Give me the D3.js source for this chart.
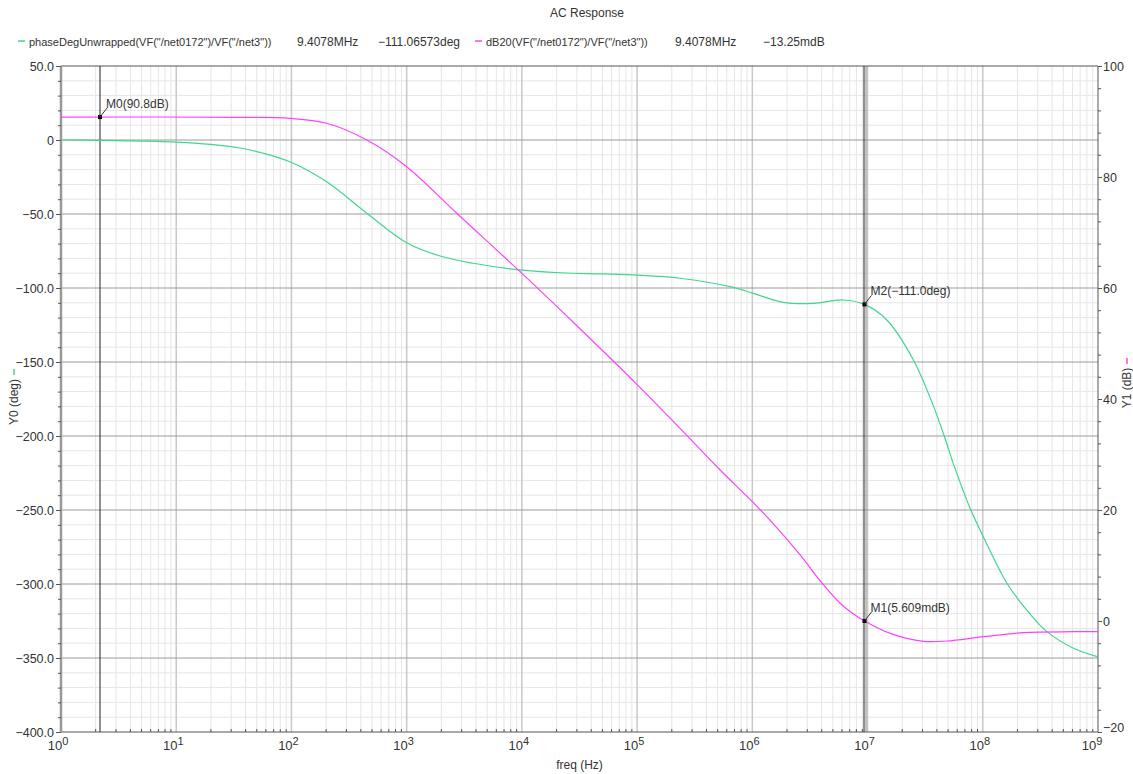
<!DOCTYPE html>
<html lang="en">
<head>
<meta charset="UTF-8" />
<title>AC Response</title>
<script src="https://d3js.org/d3.v7.min.js"></script>
<style>
  body { margin: 0; background: #fff; }
  svg text { font-family: "Liberation Sans", Arial, sans-serif; fill: #333; }
  .axis path { display: none; }
  .axis line { stroke: #555; }
</style>
</head>
<body>
<svg id="chart" width="1133" height="774"></svg>
<script>
// phase curve (left axis, deg)
const phaseFreq = [1, 2.18, 5, 10, 20, 35.8, 55, 97, 202, 451, 1000, 1950, 3790, 9640, 21500, 50000,
  100000, 236000, 641000, 1020000, 1850000, 3370000, 6140000, 9407800, 14700000, 25000000,
  37400000, 47200000, 55700000, 77800000, 101000000, 162000000, 241000000, 360000000, 613000000, 1000000000];
const phaseDeg = [0, -0.25, -0.7, -1.4, -3.0, -5.4, -8.6, -14.7, -28.2, -49.5, -69.4, -78.4, -83.3, -87.8, -89.7, -90.5,
  -91.3, -93.4, -99.1, -103.6, -109.7, -110.4, -108.1, -111.07, -121.6, -148.6,
  -180, -202, -219, -249, -268, -299.5, -317.6, -332.2, -343.4, -349.2];

// magnitude curve (right axis, dB)
const magFreq = [1, 35.8, 97, 202, 451, 1000, 2720, 9640, 30000, 100000, 236000, 525000, 1000000,
  1600000, 2600000, 4000000, 5780000, 7500000, 9407800, 15700000, 30500000, 48700000, 101000000, 225000000, 613000000, 1000000000];
const magDb = [90.8, 90.76, 90.58, 89.68, 86.67, 81.86, 73.46, 62.94, 53.2, 42.6, 34.7, 27.2, 21.5,
  17.0, 11.9, 6.9, 3.19, 1.3, 0.0056, -2.22, -3.66, -3.6, -2.83, -2.1, -1.93, -1.9];

const leftTicks = [50, 0, -50, -100, -150, -200, -250, -300, -350, -400];
const rightTicks = [100, 80, 60, 40, 20, 0, -20];
const decades = [0, 1, 2, 3, 4, 5, 6, 7, 8, 9];

// markers
const markerFreqM0 = 2.18;
const markerDbM0 = 90.8;
const markerFreqM1 = 9.4078e6;
const markerDbM1 = 0.005609;
const markerDegM2 = -111.06573;

const margin = { top: 66, left: 61, right: 35, bottom: 42 };
const W = 1133, H = 774;
const iw = W - margin.left - margin.right;
const ih = H - margin.top - margin.bottom;

const svg = d3.select("#chart");
const g = svg.append("g").attr("transform", "translate(" + margin.left + "," + margin.top + ")");

const x = d3.scaleLog().domain([1, 1e9]).range([0, iw]);
const yL = d3.scaleLinear().domain([-400, 50]).range([ih, 0]);
const yR = d3.scaleLinear().domain([-20, 100]).range([ih, 0]);

// grid: minor verticals
const minorX = [];
for (let d = 0; d < 9; d++) for (let k = 2; k <= 9; k++) minorX.push(k * Math.pow(10, d));
g.selectAll(".vminor").data(minorX).enter().append("line")
  .attr("x1", d => x(d)).attr("x2", d => x(d)).attr("y1", 0).attr("y2", ih)
  .attr("stroke", "#e6e6e6");

// minor horizontals every 10 deg
const minorY = d3.range(-390, 50, 10).filter(v => v % 50 !== 0);
g.selectAll(".hminor").data(minorY).enter().append("line")
  .attr("x1", 0).attr("x2", iw).attr("y1", d => yL(d)).attr("y2", d => yL(d))
  .attr("stroke", "#e6e6e6");

// decade verticals
g.selectAll(".vmajor").data(decades.slice(1, 9)).enter().append("line")
  .attr("x1", d => x(Math.pow(10, d))).attr("x2", d => x(Math.pow(10, d)))
  .attr("y1", 0).attr("y2", ih).attr("stroke", "#c8c8c8").attr("stroke-width", 1.5);

// major horizontals
g.selectAll(".hmajor").data(leftTicks.slice(1, 9)).enter().append("line")
  .attr("x1", 0).attr("x2", iw).attr("y1", d => yL(d)).attr("y2", d => yL(d))
  .attr("stroke", "#9a9a9a");

// frame
g.append("line").attr("x1", 0).attr("x2", iw).attr("y1", 0).attr("y2", 0).attr("stroke", "#555");
g.append("line").attr("x1", 0).attr("x2", iw).attr("y1", ih).attr("y2", ih).attr("stroke", "#555");
g.append("line").attr("x1", iw).attr("x2", iw).attr("y1", 0).attr("y2", ih).attr("stroke", "#555");
g.append("line").attr("x1", 0).attr("x2", 0).attr("y1", 0).attr("y2", ih).attr("stroke", "#999").attr("stroke-width", 2.5);

// marker vertical lines
g.append("line").attr("x1", x(markerFreqM0)).attr("x2", x(markerFreqM0)).attr("y1", 0).attr("y2", ih)
  .attr("stroke", "#222");
g.append("line").attr("x1", x(markerFreqM1) - 0.5).attr("x2", x(markerFreqM1) - 0.5).attr("y1", 0).attr("y2", ih)
  .attr("stroke", "#222");
g.append("line").attr("x1", x(markerFreqM1) + 1.5).attr("x2", x(markerFreqM1) + 1.5).attr("y1", 0).attr("y2", ih)
  .attr("stroke", "#888");

// left axis
const minus = s => s.replace("-", "\u2212");
g.append("g").attr("class", "axis")
  .call(d3.axisLeft(yL).tickValues(d3.range(-400, 51, 10)).tickSize(3).tickFormat(""));
g.append("g").attr("class", "axis")
  .call(d3.axisLeft(yL).tickValues(leftTicks).tickSize(5).tickPadding(2)
    .tickFormat(d => d === 0 ? "0" : minus(d3.format(".1f")(d))))
  .selectAll("text").style("font-size", "12.5px").attr("fill", "#333");

// right axis
g.append("g").attr("class", "axis").attr("transform", "translate(" + iw + ",0)")
  .call(d3.axisRight(yR).tickValues(d3.range(-20, 101, 4)).tickSize(3).tickFormat(""));
g.append("g").attr("class", "axis").attr("transform", "translate(" + iw + ",0)")
  .call(d3.axisRight(yR).tickValues(rightTicks).tickSize(4).tickPadding(1)
    .tickFormat(d => minus(String(d))))
  .selectAll("text").style("font-size", "12.5px").attr("fill", "#333")
  .attr("dy", d => d === -20 ? "-0.05em" : "0.32em");

// bottom axis: minor ticks inside, decade labels with superscript
g.selectAll(".bminor").data(minorX).enter().append("line")
  .attr("x1", d => x(d)).attr("x2", d => x(d)).attr("y1", ih).attr("y2", ih - 3).attr("stroke", "#555");
const xl = g.selectAll(".xlab").data(decades).enter().append("text")
  .attr("x", d => x(Math.pow(10, d)) - (d === 9 ? 6 : 3)).attr("y", ih + 18)
  .attr("text-anchor", "middle").style("font-size", "13px");
xl.append("tspan").text("10");
xl.append("tspan").attr("dy", -5).style("font-size", "11px").text(d => d);

// curves
const phaseData = phaseFreq.map((f, i) => [f, phaseDeg[i]]);
const magData = magFreq.map((f, i) => [f, magDb[i]]);
g.append("path").datum(phaseData)
  .attr("fill", "none").attr("stroke", "#3fd68f").attr("stroke-width", 1.2)
  .attr("d", d3.line().x(d => x(d[0])).y(d => yL(d[1])).curve(d3.curveCatmullRom.alpha(0.5)));
g.append("path").datum(magData)
  .attr("fill", "none").attr("stroke", "#ff40ff").attr("stroke-width", 1.2)
  .attr("d", d3.line().x(d => x(d[0])).y(d => yR(d[1])).curve(d3.curveCatmullRom.alpha(0.5)));

// marker points and labels
const markers = [
  { px: x(markerFreqM0), py: yR(markerDbM0), label: "M0(90.8dB)" },
  { px: x(markerFreqM1), py: yL(markerDegM2), label: "M2(\u2212111.0deg)" },
  { px: x(markerFreqM1), py: yR(markerDbM1), label: "M1(5.609mdB)" }
];
markers.forEach(m => {
  g.append("rect").attr("x", m.px - 2).attr("y", m.py - 2).attr("width", 4).attr("height", 4).attr("fill", "#000");
  g.append("line").attr("x1", m.px).attr("y1", m.py).attr("x2", m.px + 7).attr("y2", m.py - 9)
    .attr("stroke", "#333");
  g.append("text").attr("x", m.px + 6).attr("y", m.py - 9).style("font-size", "12px").text(m.label);
});

// titles
svg.append("text").attr("x", 587).attr("y", 17).attr("text-anchor", "middle")
  .style("font-size", "12px").text("AC Response");
svg.append("text").attr("x", margin.left + iw / 2).attr("y", 769).attr("text-anchor", "middle")
  .style("font-size", "12px").text("freq (Hz)");

const yt0 = svg.append("g").attr("transform", "translate(18,402) rotate(-90)");
yt0.append("text").attr("x", 0).attr("y", 0).attr("text-anchor", "middle").style("font-size", "12px").text("Y0 (deg)");
yt0.append("line").attr("x1", 27).attr("x2", 33).attr("y1", -4).attr("y2", -4).attr("stroke", "#3fd68f").attr("stroke-width", 1.5);

const yt1 = svg.append("g").attr("transform", "translate(1131,388) rotate(-90)");
yt1.append("text").attr("x", 0).attr("y", 0).attr("text-anchor", "middle").style("font-size", "12px").text("Y1 (dB)");
yt1.append("line").attr("x1", 24).attr("x2", 30).attr("y1", -4).attr("y2", -4).attr("stroke", "#ff40ff").attr("stroke-width", 1.5);

// legend row
const legend = [
  { color: "#3fd68f", x0: 18, name: "phaseDegUnwrapped(VF(\"/net0172\")/VF(\"/net3\"))", fx: 297, freq: "9.4078MHz", vx: 378, val: "\u2212111.06573deg" },
  { color: "#ff40ff", x0: 475, name: "dB20(VF(\"/net0172\")/VF(\"/net3\"))", fx: 675, freq: "9.4078MHz", vx: 763, val: "\u221213.25mdB" }
];
legend.forEach(l => {
  svg.append("line").attr("x1", l.x0).attr("x2", l.x0 + 7).attr("y1", 41).attr("y2", 41)
    .attr("stroke", l.color).attr("stroke-width", 1.5);
  svg.append("text").attr("x", l.x0 + 11).attr("y", 46).style("font-size", "11px").text(l.name);
  svg.append("text").attr("x", l.fx).attr("y", 46).style("font-size", "12px").text(l.freq);
  svg.append("text").attr("x", l.vx).attr("y", 46).style("font-size", "12px").text(l.val);
});
</script>
</body>
</html>
